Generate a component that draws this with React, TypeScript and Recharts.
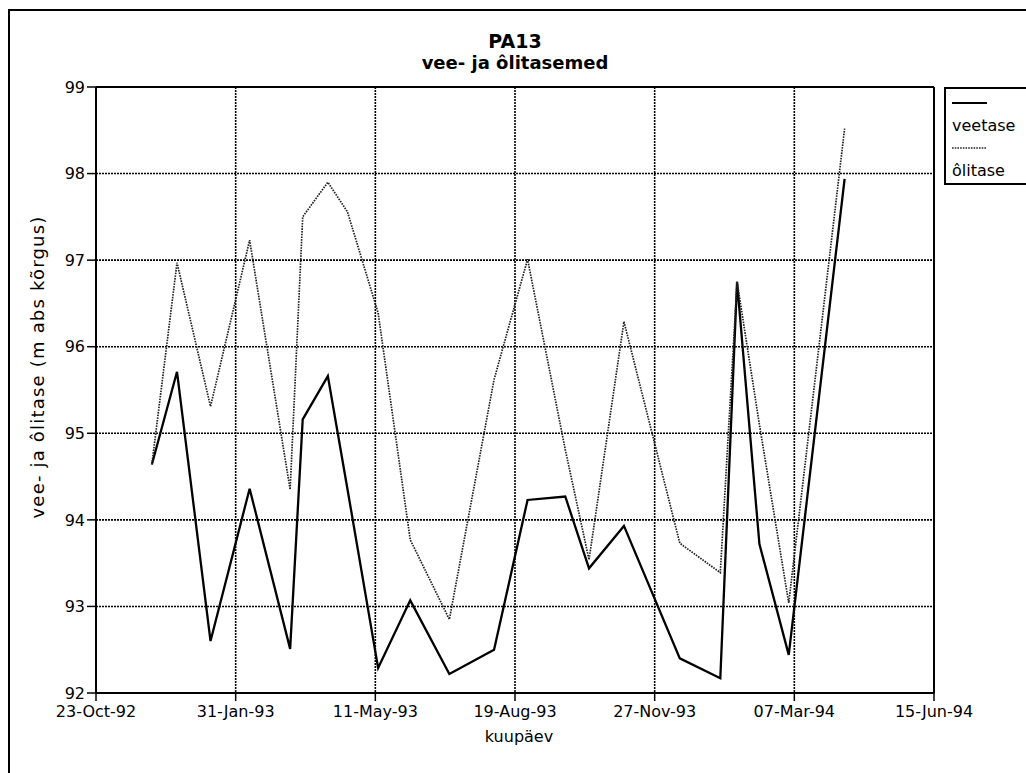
import React from "react";
import {
  LineChart,
  Line,
  XAxis,
  YAxis,
  CartesianGrid,
  ReferenceLine,
  Legend,
} from "recharts";

// ---- data ----
const sampleDates = [
  "1992-12-02", "1992-12-20", "1993-01-13", "1993-02-10", "1993-03-11",
  "1993-03-20", "1993-04-07", "1993-04-21", "1993-05-13", "1993-06-05",
  "1993-07-03", "1993-08-04", "1993-08-28", "1993-09-24", "1993-10-11",
  "1993-11-05", "1993-12-15", "1994-01-13", "1994-01-25", "1994-02-10",
  "1994-03-03", "1994-04-12",
];
const veetase = [
  94.64, 95.71, 92.6, 94.36, 92.51, 95.16, 95.66, 94.36, 92.29, 93.07, 92.22,
  92.5, 94.23, 94.27, 93.44, 93.93, 92.4, 92.17, 96.75, 93.72, 92.44, 97.94,
];
const olitase = [
  94.64, 96.97, 95.31, 97.23, 94.35, 97.5, 97.9, 97.56, 96.39, 93.77, 92.85,
  95.62, 97.01, 94.81, 93.54, 96.29, 93.73, 93.39, 96.75, 95.1, 93.04, 98.52,
];
const xTickDates = [
  "1992-10-23", "1993-01-31", "1993-05-11", "1993-08-19",
  "1993-11-27", "1994-03-07", "1994-06-15",
];
const yTicks = [92, 93, 94, 95, 96, 97, 98, 99];
const seriesNames = { veetase: "veetase", olitase: "ôlitase" };
const titleLines = ["PA13", "vee- ja ôlitasemed"];
const xLabel = "kuupäev";
const yLabel = "vee- ja ôlitase (m abs kõrgus)";

const MONTHS = ["Jan", "Feb", "Mar", "Apr", "May", "Jun", "Jul", "Aug", "Sep", "Oct", "Nov", "Dec"];
const toMs = (s: string) => Date.parse(s + "T00:00:00Z");
const fmtDate = (ms: number) => {
  const d = new Date(ms);
  return `${String(d.getUTCDate()).padStart(2, "0")}-${MONTHS[d.getUTCMonth()]}-${String(
    d.getUTCFullYear()
  ).slice(2)}`;
};

const data = sampleDates.map((d, i) => ({
  t: toMs(d),
  veetase: veetase[i],
  olitase: olitase[i],
}));
const xTicks = xTickDates.map(toMs);
const xDomain: [number, number] = [xTicks[0], xTicks[xTicks.length - 1]];

const FONT = "'DejaVu Sans', 'Liberation Sans', Arial, sans-serif";
const OLI_DASH = "1.6 1.1";

const W = 1026;
const H = 773;
const PLOT = { left: 96, right: 934, top: 87, bottom: 693 };

const LegendBox = (props: any) => {
  const payload = props.payload || [];
  return (
    <svg width={100} height={98} style={{ display: "block" }}>
      <rect x={1} y={1} width={110} height={96} fill="#fff" stroke="#000" strokeWidth={2} />
      {payload.map((p: any, i: number) => {
        const isOli = p.dataKey === "olitase";
        const ly = 16 + i * 45;
        return (
          <g key={i}>
            <line
              x1={8}
              x2={43}
              y1={ly}
              y2={ly}
              stroke={isOli ? "#222" : "#000"}
              strokeWidth={isOli ? 1.7 : 2}
              strokeDasharray={isOli ? OLI_DASH : undefined}
            />
            <text x={8} y={ly + 28} fontFamily={FONT} fontSize={16} fill="#000">
              {p.value}
            </text>
          </g>
        );
      })}
    </svg>
  );
};

export default function App() {
  return (
    <div
      style={{
        position: "absolute",
        left: 0,
        top: 0,
        width: W,
        height: H,
        background: "#fff",
        overflow: "hidden",
      }}
    >
      <LineChart
        width={W}
        height={H}
        data={data}
        margin={{
          top: PLOT.top,
          right: W - PLOT.right,
          bottom: 0,
          left: 0,
        }}
      >
        <CartesianGrid stroke="#000" strokeWidth={1.6} strokeDasharray="2 1" />
        <XAxis
          dataKey="t"
          type="number"
          domain={xDomain}
          ticks={xTicks}
          tickFormatter={fmtDate}
          height={H - PLOT.bottom}
          interval={0}
          tickSize={8}
          tickMargin={5}
          axisLine={{ stroke: "#000", strokeWidth: 2 }}
          tickLine={{ stroke: "#000", strokeWidth: 1.5 }}
          tick={{ fontFamily: FONT, fontSize: 16, fill: "#000" }}
          allowDataOverflow
        />
        <YAxis
          type="number"
          domain={[92, 99]}
          ticks={yTicks}
          width={PLOT.left}
          interval={0}
          tickSize={9}
          tickMargin={2}
          axisLine={{ stroke: "#000", strokeWidth: 2 }}
          tickLine={{ stroke: "#000", strokeWidth: 1.5 }}
          tick={{ fontFamily: FONT, fontSize: 16, fill: "#000" }}
          allowDataOverflow
        />
        <ReferenceLine y={99} stroke="#000" strokeWidth={2} />
        <ReferenceLine x={xDomain[1]} stroke="#000" strokeWidth={2} />
        <Line
          type="linear"
          dataKey="veetase"
          name={seriesNames.veetase}
          stroke="#000"
          strokeWidth={2.3}
          dot={false}
          isAnimationActive={false}
        />
        <Line
          type="linear"
          dataKey="olitase"
          name={seriesNames.olitase}
          stroke="#222"
          strokeWidth={1.7}
          strokeDasharray={OLI_DASH}
          dot={false}
          isAnimationActive={false}
        />
        <Legend
          layout="vertical"
          align="center"
          verticalAlign="middle"
          content={<LegendBox />}
          wrapperStyle={{ position: "absolute", left: 944, top: 87, width: 100, height: 98 }}
        />
      </LineChart>
      <svg
        width={W}
        height={H}
        style={{ position: "absolute", left: 0, top: 0, pointerEvents: "none" }}
      >
        <line x1={8} x2={W} y1={10} y2={10} stroke="#000" strokeWidth={2} />
        <line x1={9} x2={9} y1={10} y2={H} stroke="#000" strokeWidth={2} />
        <text
          x={515}
          y={48}
          textAnchor="middle"
          fontFamily={FONT}
          fontWeight="bold"
          fontSize={19}
          fill="#000"
        >
          {titleLines[0]}
        </text>
        <text
          x={515}
          y={69}
          textAnchor="middle"
          fontFamily={FONT}
          fontWeight="bold"
          fontSize={18}
          fill="#000"
        >
          {titleLines[1]}
        </text>
        <text
          x={519}
          y={742}
          textAnchor="middle"
          fontFamily={FONT}
          fontSize={16}
          fill="#000"
        >
          {xLabel}
        </text>
        <text
          x={0}
          y={0}
          transform="translate(44 367) rotate(-90)"
          textAnchor="middle"
          fontFamily={FONT}
          fontSize={18}
          letterSpacing={1.2}
          fill="#000"
        >
          {yLabel}
        </text>
      </svg>
    </div>
  );
}
